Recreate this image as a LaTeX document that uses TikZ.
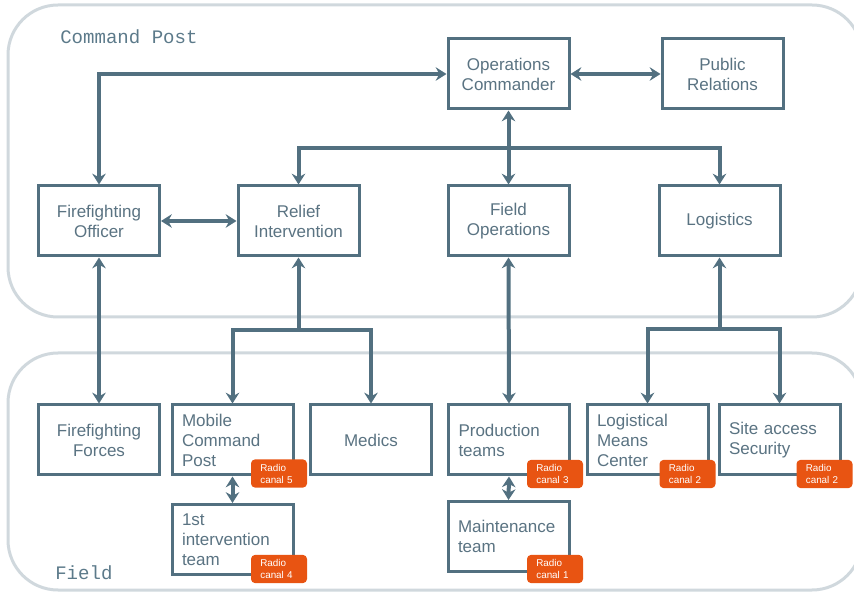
\documentclass[tikz,border=0pt]{standalone}
\usepackage{fontspec}
\setmainfont{Liberation Sans}
\setmonofont{Liberation Mono}
\usetikzlibrary{arrows.meta}

\definecolor{slate}{RGB}{82,112,128}
\definecolor{ink}{RGB}{90,115,130}
\definecolor{zone}{RGB}{208,216,221}
\definecolor{zonetext}{RGB}{92,122,138}
\definecolor{radioorange}{RGB}{232,84,18}

\begin{document}
\begin{tikzpicture}[x=0.75pt, y=-0.75pt,
	region/.style={draw=zone, line width=2.25pt, rounded corners=37.5pt},
	regionlabel/.style={anchor=west, text=zonetext, inner sep=0pt, font=\ttfamily\fontsize{14.3}{16}\selectfont},
	box/.style={draw=slate, line width=2.25pt, fill=white, text=ink, minimum width=90.75pt, minimum height=52.5pt, align=center, font=\fontsize{12.75}{15}\selectfont},
	lbox/.style={box, text width=75.75pt, inner xsep=7.5pt, align=left},
	radio/.style={fill=radioorange, rounded corners=3pt, text=white, minimum width=41.25pt, minimum height=20.25pt, text width=28pt, inner xsep=7pt, align=left, font=\fontsize{7.4}{9}\selectfont},
	link/.style={draw=slate, line width=3pt, -{Stealth[length=8pt, width=10pt, inset=2.5pt]}},
	dlink/.style={link, {Stealth[length=8pt, width=10pt, inset=2.5pt]}-{Stealth[length=8pt, width=10pt, inset=2.5pt]}}]

	\useasboundingbox (0,0) rectangle (854,595);

	% the two zones
	\draw[region] (8,5) rectangle (862,317);
	\draw[region] (8,353) rectangle (862,590);
	\node[regionlabel] (cplabel) at (60,37) {Command Post};
	\node[regionlabel] (fieldlabel) at (55,573) {Field};

	% command post
	\node[box] (opc) at (508.5,74) {Operations\\Commander};
	\node[box] (pr) at (722.5,74) {Public\\Relations};
	\node[box] (ffo) at (99,221) {Firefighting\\Officer};
	\node[box] (ri) at (298.5,221) {Relief\\Intervention};
	\node[box] (fop) at (508.5,221) {Field\\Operations};
	\node[box] (log) at (719.5,221) {Logistics};

	% field
	\node[box] (fff) at (99,440) {Firefighting\\Forces};
	\node[lbox] (mcp) at (232.5,440) {Mobile\\Command\\Post};
	\node[box] (med) at (371,440) {Medics};
	\node[lbox] (prod) at (509,440) {Production\\teams};
	\node[lbox] (lmc) at (647.5,440) {Logistical\\Means\\Center};
	\node[lbox] (sas) at (779.5,440) {Site access\\Security};
	\node[lbox] (first) at (232.5,539.5) {1st\\intervention\\team};
	\node[lbox] (mnt) at (508.5,536.5) {Maintenance\\team};

	% connections
	\draw[dlink] (ffo.north) |- (opc.west);
	\draw[dlink] (opc.east) -- (pr.west);
	\draw[dlink] (opc.south) -- (fop.north);
	\coordinate (hub) at (508.5,148);
	\draw[link] (hub) -| (ri.north);
	\draw[link] (hub) -| (log.north);
	\draw[dlink] (ffo.east) -- (ri.west);
	\draw[dlink] (ffo.south) -- (fff.north);

	\coordinate (rhub) at (298.5,330);
	\draw[link] (rhub) -- (ri.south);
	\draw[link] (rhub) -| (mcp.north);
	\draw[link] (rhub) -| (med.north);
	\draw[dlink] (fop.south) -- (prod.north);
	\coordinate (lhub) at (719.5,329);
	\draw[link] (lhub) -- (log.south);
	\draw[link] (lhub) -| (lmc.north);
	\draw[link] (lhub) -| (sas.north);
	\draw[dlink] (mcp.south) -- (first.north);
	\draw[dlink] (prod.south) -- (mnt.north);

	% radio channels
	\node[radio] (r5) at (279,473.5) {Radio\\canal 5};
	\node[radio] (r4) at (279,569) {Radio\\canal 4};
	\node[radio] (r3) at (555,474) {Radio\\canal 3};
	\node[radio] (r1) at (555,569) {Radio\\canal 1};
	\node[radio] (r2a) at (687.5,474) {Radio\\canal 2};
	\node[radio] (r2b) at (824.5,474) {Radio\\canal 2};

\end{tikzpicture}
\end{document}
